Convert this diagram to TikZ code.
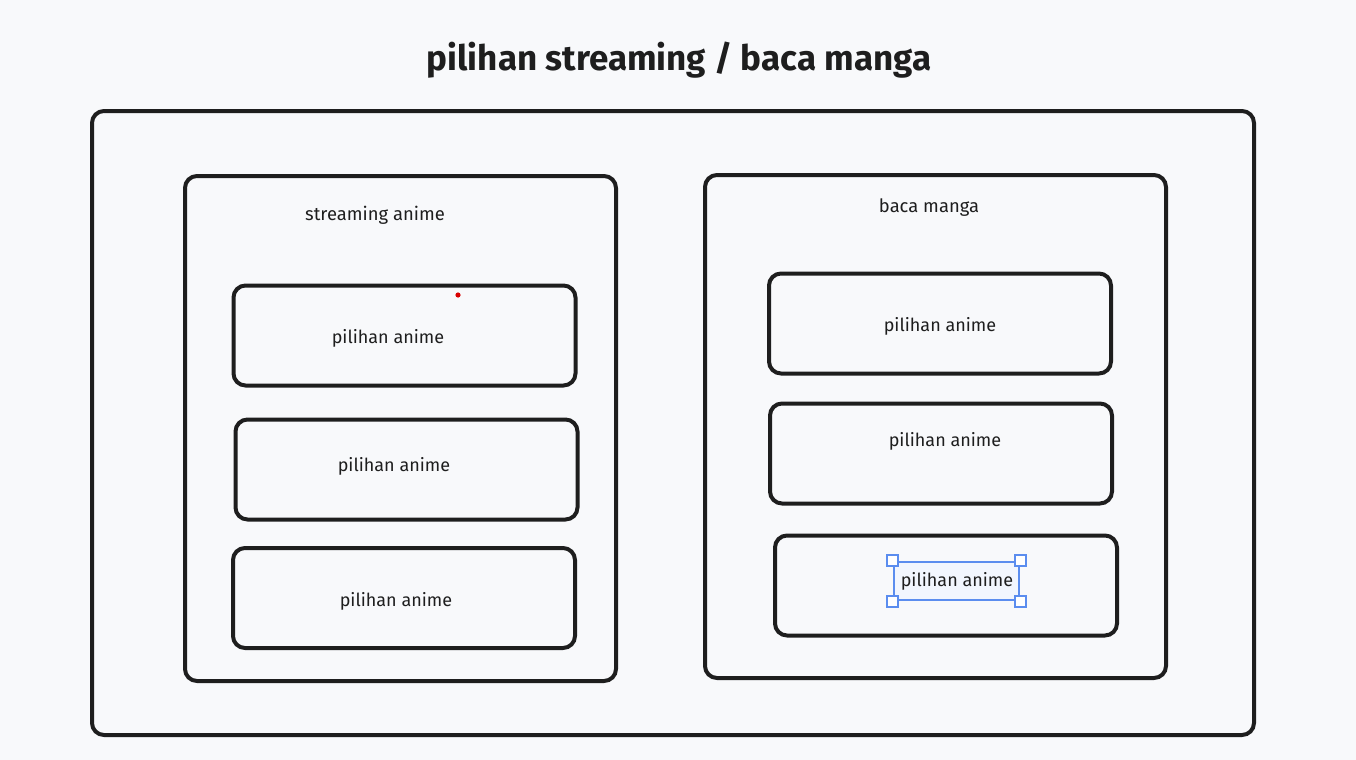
\documentclass[tikz,border=0pt]{standalone}
\usepackage{fontspec}
\setmainfont{Fira Sans}
\definecolor{ink}{HTML}{1E1E1E}
\definecolor{paper}{HTML}{F8F9FB}
\definecolor{selblue}{HTML}{5B8DEF}
\tikzset{
  frame/.style={draw=ink,line width=2pt,rounded corners=6pt,inner sep=0pt},
  card/.style={frame,minimum width=171pt,minimum height=50pt},
  cardtext/.style={font=\fontsize{9}{11}\selectfont,text=ink,inner sep=0pt},
  handle/.style={draw=selblue,fill=white,line width=.9pt,minimum size=5.5pt,inner sep=0pt}
}
\begin{document}
\begin{tikzpicture}[x=0.5pt,y=-0.5pt]
                \useasboundingbox [fill=paper] (0,0) rectangle (1356,760);
                \node (title) at (679,60) [font=\bfseries\fontsize{17.5}{21}\selectfont,text=ink] {pilihan streaming / baca manga};
                \node (outer) at (673,423) [frame,minimum width=581pt,minimum height=312pt] {};
                \begin{scope}[every node/.style={frame}]
                \node (stream) at (400.5,428.5) [minimum width=215.5pt,minimum height=252.5pt] {};
                \node (manga) at (935.5,426.5) [minimum width=230.5pt,minimum height=251.5pt] {};
                \end{scope}
                \node (streamlbl) at (375,215) [cardtext,font=\fontsize{9.2}{11}\selectfont] {streaming anime};
                \node (mangalbl) at (929,208) [cardtext,font=\fontsize{9.2}{11}\selectfont] {baca manga};
                \node (sa) at (404.5,335.5) [card] {};
                \node (sb) at (406.5,469.5) [card] {};
                \node (sc) at (404,598) [card] {};
                \node (ma) at (940,323.5) [card] {};
                \node (mb) at (941,453.5) [card] {};
                \node (mc) at (946,585.5) [card] {};
                \node (salbl) at (388,338) [cardtext] {pilihan anime};
                \node (sblbl) at (394,466) [cardtext] {pilihan anime};
                \node (sclbl) at (396,601) [cardtext] {pilihan anime};
                \node (malbl) at (940,326) [cardtext] {pilihan anime};
                \node (mblbl) at (945,441) [cardtext] {pilihan anime};
                \node (sel) at (956.5,581) [draw=selblue,fill=selblue!8,line width=1.3pt,minimum width=62.5pt,minimum height=19pt] {};
                \node (mclbl) at (957,581) [cardtext] {pilihan anime};
                \foreach \c in {north west,north east,south west,south east}
                  \node at (sel.\c) [handle] {};
                \fill [red!85!black] (458,295) circle (1.3pt);
            \end{tikzpicture}
\end{document}
